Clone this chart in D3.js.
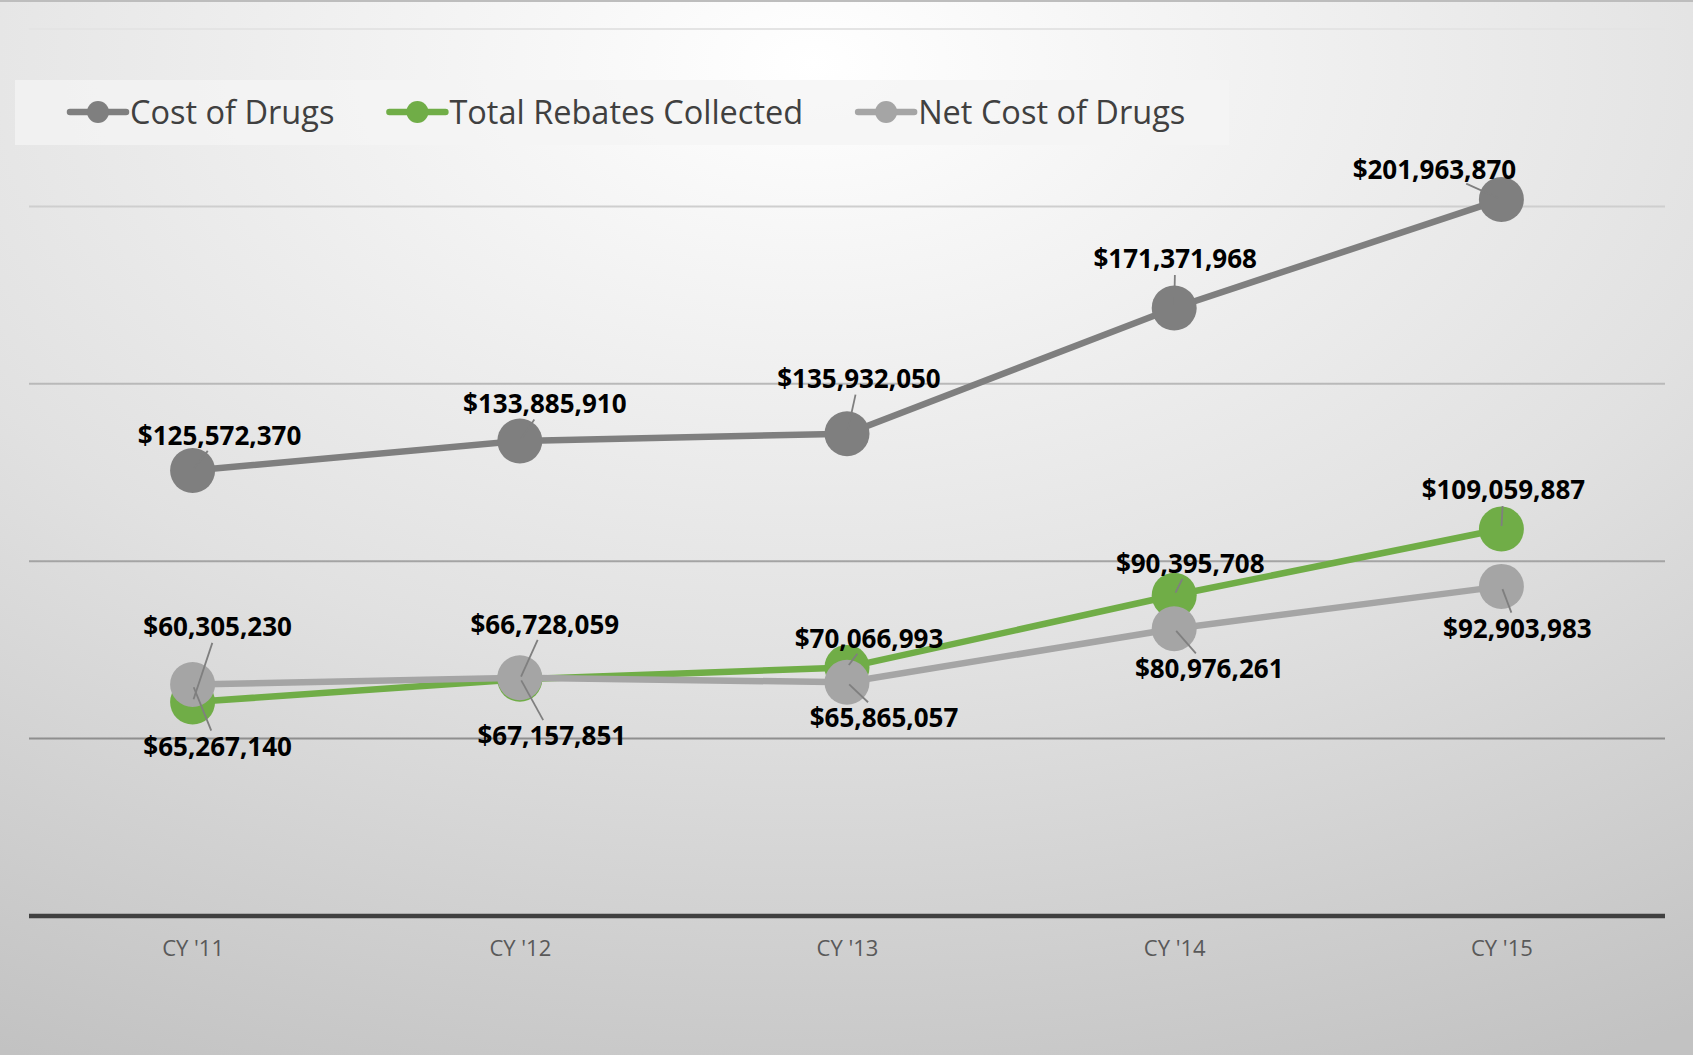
<!DOCTYPE html>
<html>
<head>
<meta charset="utf-8">
<script src="https://cdn.jsdelivr.net/npm/d3@7"></script>
<style>
  html,body{margin:0;padding:0;overflow:hidden;}
  body{width:1693px;height:1055px;}
  text{font-family:"Open Sans",sans-serif;}
</style>
</head>
<body>
<script>
// chart data
var years = ["CY '11","CY '12","CY '13","CY '14","CY '15"];
var costOfDrugs = [125572370,133885910,135932050,171371968,201963870];
var totalRebates = [60305230,66728059,70066993,90395708,109059887];
var netCost = [65267140,67157851,65865057,80976261,92903983];
var seriesNames = ["Cost of Drugs","Total Rebates Collected","Net Cost of Drugs"];
var yTicks = [0,50000000,100000000,150000000,200000000,250000000];

// label placement (px, relative to the point) - hand placed like the original
var costNudge = [[27,-35],[25,-37],[12,-55],[1,-49],[-67,-30]];
var rebateNudge = [[25,-75],[25,-55],[22,-29],[16,-32],[2,-39]];
var netNudge = [[25,62],[32,58],[37,35],[35,40],[16,42]];

window.onload=function(){
	var width=1693,height=1055;
	var left=29,right=1665,top=29,bottom=916;

	var svg = d3.select("body").append("svg")
			.attr("width",width)
			.attr("height",height);

	var defs = svg.append("defs");
	var bg = defs.append("radialGradient")
			.attr("id","bg")
			.attr("cx","48%").attr("cy","6%").attr("r","105%");
	bg.append("stop").attr("offset","0%").attr("stop-color","#ffffff");
	bg.append("stop").attr("offset","55%").attr("stop-color","#e1e1e1");
	bg.append("stop").attr("offset","100%").attr("stop-color","#c2c2c2");

	var gridGrad = defs.append("linearGradient")
			.attr("id","gridGrad")
			.attr("gradientUnits","userSpaceOnUse")
			.attr("x1",0).attr("y1",top).attr("x2",0).attr("y2",740);
	gridGrad.append("stop").attr("offset","0%").attr("stop-color","#e4e4e4");
	gridGrad.append("stop").attr("offset","100%").attr("stop-color","#8e8e8e");

	svg.append("rect")
			.attr("width",width).attr("height",height)
			.attr("fill","url(#bg)");
	svg.append("line")
			.attr("x1",0).attr("x2",width).attr("y1",1).attr("y2",1)
			.attr("stroke","#bdbdbd").attr("stroke-width",2);

	var x = d3.scalePoint()
			.domain(years)
			.range([left,right])
			.padding(0.5);
	var y = d3.scaleLinear()
			.domain([0,250000000])
			.range([bottom,top]);

	// gridlines
	svg.append("g")
			.selectAll("line")
			.data(yTicks.slice(1))
		.enter().append("line")
			.attr("x1",left).attr("x2",right)
			.attr("y1",function(d){return y(d);})
			.attr("y2",function(d){return y(d);})
			.attr("stroke","url(#gridGrad)")
			.attr("stroke-width",2);

	// x axis
	var xAxis = svg.append("g")
			.attr("transform","translate(0,"+bottom+")")
			.call(d3.axisBottom(x).tickSize(0).tickPadding(24));
	xAxis.select(".domain")
			.attr("d","M"+left+",0H"+right)
			.attr("stroke","#404040")
			.attr("stroke-width",4.5);
	xAxis.selectAll("text")
			.attr("font-family","Open Sans")
			.attr("font-size",22)
			.attr("fill","#595959");

	var fmt = d3.format("$,");
	var series = [
		{name:seriesNames[0],values:costOfDrugs,color:"#7f7f7f",nudge:costNudge},
		{name:seriesNames[1],values:totalRebates,color:"#70ad47",nudge:rebateNudge},
		{name:seriesNames[2],values:netCost,color:"#a5a5a5",nudge:netNudge}
	];

	var line = d3.line()
			.x(function(d,i){return x(years[i]);})
			.y(function(d){return y(d);});

	var r = 22.5;
	series.forEach(function(s){
		var g = svg.append("g");
		g.append("path")
				.attr("d",line(s.values))
				.attr("fill","none")
				.attr("stroke",s.color)
				.attr("stroke-width",6.5)
				.attr("stroke-linejoin","round");
		g.selectAll("circle")
				.data(s.values)
			.enter().append("circle")
				.attr("cx",function(d,i){return x(years[i]);})
				.attr("cy",function(d){return y(d);})
				.attr("r",r)
				.attr("fill",s.color);
	});

	// data labels + leader lines
	var labelG = svg.append("g");
	series.forEach(function(s){
		s.values.forEach(function(v,i){
			var px = x(years[i]), py = y(v);
			var lx = px+s.nudge[i][0], ly = py+s.nudge[i][1];
			var t = labelG.append("text")
					.attr("x",lx).attr("y",ly)
					.attr("dy","0.36em")
					.attr("text-anchor","middle")
					.attr("font-size",26)
					.attr("font-weight","bold")
					.attr("fill","#000")
					.text(fmt(v));
			var hw = t.node().getComputedTextLength()/2+2, hh = 13;
			var dx = lx-px, dy = ly-py, dist = Math.sqrt(dx*dx+dy*dy);
			var ux = dx/dist, uy = dy/dist;
			var back = Math.min(Math.abs(ux)>1e-6?hw/Math.abs(ux):1e9, Math.abs(uy)>1e-6?hh/Math.abs(uy):1e9);
			var end = dist-back-3;
			if(end>r*0.6){
				labelG.insert("line","text")
						.attr("x1",px+ux*3).attr("y1",py+uy*3)
						.attr("x2",px+ux*end).attr("y2",py+uy*end)
						.attr("stroke","#7f7f7f")
						.attr("stroke-width",1.8);
			}
		});
	});

	// legend
	var legend = svg.append("g");
	legend.append("rect")
			.attr("x",15).attr("y",80)
			.attr("width",1214).attr("height",65)
			.attr("fill","#f4f4f4")
			.attr("opacity",0.75);
	var lx = 70;
	series.forEach(function(s){
		var item = legend.append("g");
		item.append("line")
				.attr("x1",lx).attr("x2",lx+56)
				.attr("y1",112).attr("y2",112)
				.attr("stroke",s.color)
				.attr("stroke-width",6.5)
				.attr("stroke-linecap","round");
		item.append("circle")
				.attr("cx",lx+28).attr("cy",112)
				.attr("r",11)
				.attr("fill",s.color);
		var t = item.append("text")
				.attr("x",lx+60).attr("y",112)
				.attr("dy","0.36em")
				.attr("font-size",32.5)
				.attr("fill","#404040")
				.text(s.name);
		lx = lx+60+t.node().getComputedTextLength()+55;
	});
};
</script>
</body>
</html>
